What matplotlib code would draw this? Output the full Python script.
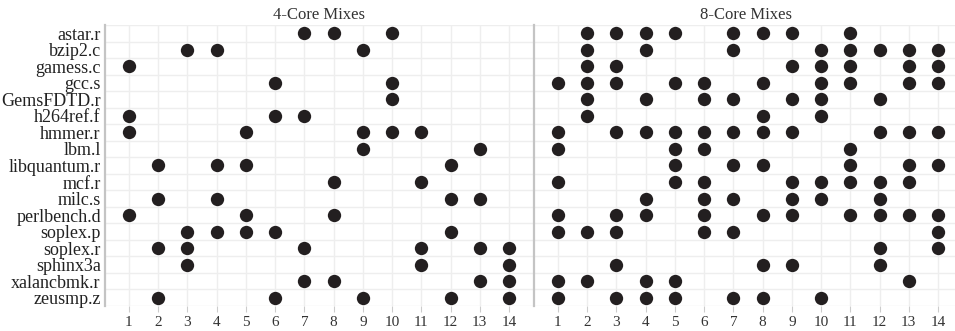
import matplotlib.pyplot as plt
import numpy as np

plt.rcParams['font.family'] = ['Liberation Serif', 'DejaVu Serif']

benchmarks = ['astar.r', 'bzip2.c', 'gamess.c', 'gcc.s', 'GemsFDTD.r', 'h264ref.f',
              'hmmer.r', 'lbm.l', 'libquantum.r', 'mcf.r', 'milc.s', 'perlbench.d',
              'soplex.p', 'soplex.r', 'sphinx3a', 'xalancbmk.r', 'zeusmp.z']
mix_ids = list(range(1, 15))

# mix numbers each benchmark appears in
mixes_4core = {
    'astar.r': [7, 8, 10],
    'bzip2.c': [3, 4, 9],
    'gamess.c': [1],
    'gcc.s': [6, 10],
    'GemsFDTD.r': [10],
    'h264ref.f': [1, 6, 7],
    'hmmer.r': [1, 5, 9, 10, 11],
    'lbm.l': [9, 13],
    'libquantum.r': [2, 4, 5, 12],
    'mcf.r': [8, 11],
    'milc.s': [2, 4, 12, 13],
    'perlbench.d': [1, 5, 8],
    'soplex.p': [3, 4, 5, 6, 12],
    'soplex.r': [2, 3, 7, 11, 13, 14],
    'sphinx3a': [3, 11, 14],
    'xalancbmk.r': [7, 8, 13, 14],
    'zeusmp.z': [2, 6, 9, 12, 14],
}
mixes_8core = {
    'astar.r': [2, 3, 4, 5, 7, 8, 9, 11],
    'bzip2.c': [2, 4, 7, 10, 11, 12, 13, 14],
    'gamess.c': [2, 3, 9, 10, 11, 13, 14],
    'gcc.s': [1, 2, 3, 5, 6, 8, 10, 11, 13, 14],
    'GemsFDTD.r': [2, 4, 6, 7, 9, 10, 12],
    'h264ref.f': [2, 8, 10],
    'hmmer.r': [1, 3, 4, 5, 6, 7, 8, 9, 12, 13, 14],
    'lbm.l': [1, 5, 6, 11],
    'libquantum.r': [5, 7, 8, 11, 13, 14],
    'mcf.r': [1, 5, 6, 9, 10, 11, 12, 13],
    'milc.s': [4, 6, 7, 9, 10, 12],
    'perlbench.d': [1, 3, 4, 6, 8, 9, 11, 12, 13, 14],
    'soplex.p': [1, 2, 3, 6, 7, 14],
    'soplex.r': [12, 14],
    'sphinx3a': [3, 8, 9, 12],
    'xalancbmk.r': [1, 2, 4, 5, 13],
    'zeusmp.z': [1, 3, 4, 5, 7, 8, 10],
}

W, H = 955, 331
fig = plt.figure(figsize=(W / 100, H / 100), dpi=100)

def px_axes(x0, x1, y0, y1):
    return fig.add_axes([x0 / W, 1 - y1 / H, (x1 - x0) / W, (y1 - y0) / H])

ax4 = px_axes(105, 533, 25, 306)
ax8 = px_axes(534, 962, 25, 306)

for ax, mixes, show_labels in [(ax4, mixes_4core, True), (ax8, mixes_8core, False)]:
    xs, ys = [], []
    for row, b in enumerate(benchmarks):
        for m in mixes[b]:
            xs.append(m)
            ys.append(row)
    ax.scatter(xs, ys, s=92, color='#231f20', zorder=3, linewidths=0)

    ax.set_xlim(0.18, 14.82)
    ax.set_ylim(len(benchmarks) - 0.5, -0.5)
    ax.set_xticks(mix_ids)
    ax.set_xticklabels([str(m) for m in mix_ids], fontsize=11, color='#333333')
    # grid: vertical at mix positions, horizontal between rows
    for m in mix_ids:
        ax.axvline(m, color='#eeeeee', lw=1, zorder=0)
    for r in np.arange(-0.5, len(benchmarks) + 0.5, 1):
        ax.axhline(r, color='#eeeeee', lw=1, zorder=0)
    ax.tick_params(axis='x', length=4, width=0.8, color='#cccccc', pad=3)
    ax.tick_params(axis='y', length=0, pad=3)
    ax.set_yticks(range(len(benchmarks)))
    if show_labels:
        ax.set_yticklabels(benchmarks, fontsize=13, color='#222222')
    else:
        ax.set_yticklabels([])
    for side in ['top', 'right', 'bottom']:
        ax.spines[side].set_visible(False)
    ax.spines['left'].set_color('#c4c4c4')
    ax.spines['left'].set_linewidth(1.6)

ax4.set_title('4-Core Mixes', fontsize=12, color='#333333', pad=4)
ax8.set_title('8-Core Mixes', fontsize=12, color='#333333', pad=4,
              x=(746 - 534) / 428)

fig.savefig('out.png', dpi=100)
